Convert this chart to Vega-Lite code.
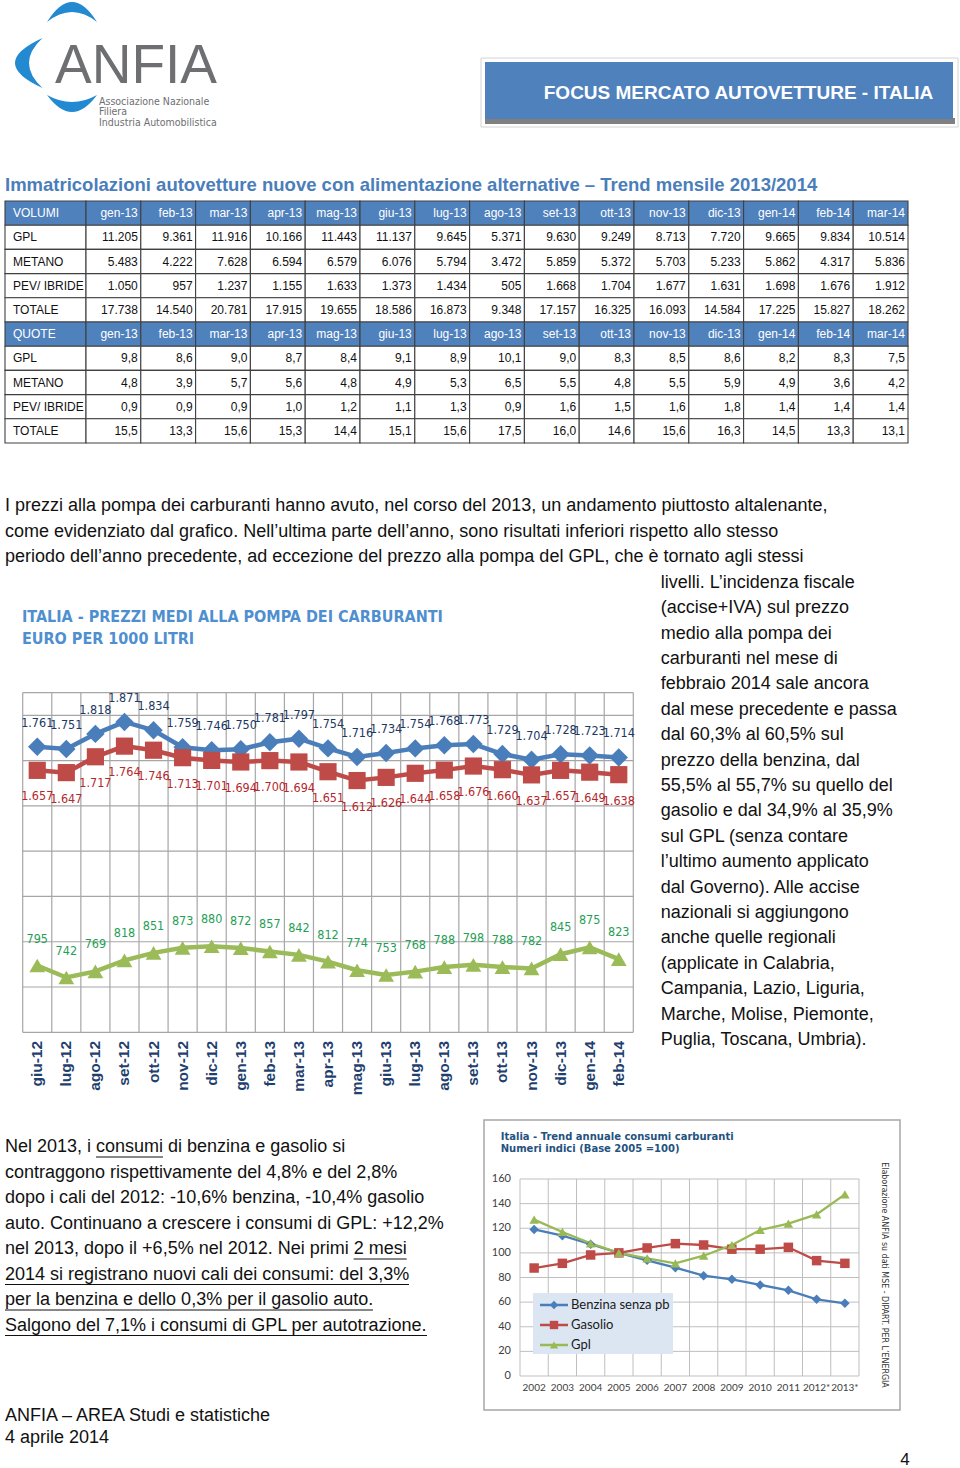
{
"$schema": "https://vega.github.io/schema/vega-lite/v6.json",
"width": 960,
"height": 1468,
"autosize": {"type": "none"},
"padding": 0,
"background": "#ffffff",
"config": {
  "view": {"stroke": null},
  "font": "Liberation Sans",
  "locale": {"number": {"decimal": ",", "thousands": ".", "grouping": [3], "currency": ["€", ""]}}
},
"resolve": {"scale": {"x": "independent", "y": "independent", "color": "independent", "shape": "independent", "fill": "independent", "size": "independent"}},
"datasets": {
  "tbl": [
    {"r":0,"kind":"head","label":"VOLUMI"},
    {"r":1,"kind":"body","label":"GPL","gen-13":"11.205","feb-13":"9.361","mar-13":"11.916","apr-13":"10.166","mag-13":"11.443","giu-13":"11.137","lug-13":"9.645","ago-13":"5.371","set-13":"9.630","ott-13":"9.249","nov-13":"8.713","dic-13":"7.720","gen-14":"9.665","feb-14":"9.834","mar-14":"10.514"},
    {"r":2,"kind":"body","label":"METANO","gen-13":"5.483","feb-13":"4.222","mar-13":"7.628","apr-13":"6.594","mag-13":"6.579","giu-13":"6.076","lug-13":"5.794","ago-13":"3.472","set-13":"5.859","ott-13":"5.372","nov-13":"5.703","dic-13":"5.233","gen-14":"5.862","feb-14":"4.317","mar-14":"5.836"},
    {"r":3,"kind":"body","label":"PEV/ IBRIDE","gen-13":"1.050","feb-13":"957","mar-13":"1.237","apr-13":"1.155","mag-13":"1.633","giu-13":"1.373","lug-13":"1.434","ago-13":"505","set-13":"1.668","ott-13":"1.704","nov-13":"1.677","dic-13":"1.631","gen-14":"1.698","feb-14":"1.676","mar-14":"1.912"},
    {"r":4,"kind":"body","label":"TOTALE","gen-13":"17.738","feb-13":"14.540","mar-13":"20.781","apr-13":"17.915","mag-13":"19.655","giu-13":"18.586","lug-13":"16.873","ago-13":"9.348","set-13":"17.157","ott-13":"16.325","nov-13":"16.093","dic-13":"14.584","gen-14":"17.225","feb-14":"15.827","mar-14":"18.262"},
    {"r":5,"kind":"head","label":"QUOTE"},
    {"r":6,"kind":"body","label":"GPL","gen-13":"9,8","feb-13":"8,6","mar-13":"9,0","apr-13":"8,7","mag-13":"8,4","giu-13":"9,1","lug-13":"8,9","ago-13":"10,1","set-13":"9,0","ott-13":"8,3","nov-13":"8,5","dic-13":"8,6","gen-14":"8,2","feb-14":"8,3","mar-14":"7,5"},
    {"r":7,"kind":"body","label":"METANO","gen-13":"4,8","feb-13":"3,9","mar-13":"5,7","apr-13":"5,6","mag-13":"4,8","giu-13":"4,9","lug-13":"5,3","ago-13":"6,5","set-13":"5,5","ott-13":"4,8","nov-13":"5,5","dic-13":"5,9","gen-14":"4,9","feb-14":"3,6","mar-14":"4,2"},
    {"r":8,"kind":"body","label":"PEV/ IBRIDE","gen-13":"0,9","feb-13":"0,9","mar-13":"0,9","apr-13":"1,0","mag-13":"1,2","giu-13":"1,1","lug-13":"1,3","ago-13":"0,9","set-13":"1,6","ott-13":"1,5","nov-13":"1,6","dic-13":"1,8","gen-14":"1,4","feb-14":"1,4","mar-14":"1,4"},
    {"r":9,"kind":"body","label":"TOTALE","gen-13":"15,5","feb-13":"13,3","mar-13":"15,6","apr-13":"15,3","mag-13":"14,4","giu-13":"15,1","lug-13":"15,6","ago-13":"17,5","set-13":"16,0","ott-13":"14,6","nov-13":"15,6","dic-13":"16,3","gen-14":"14,5","feb-14":"13,3","mar-14":"13,1"}
  ],
  "prezzi": [
    {"mese":"giu-12","fuel":"Benzina","v":1761},{"mese":"lug-12","fuel":"Benzina","v":1751},{"mese":"ago-12","fuel":"Benzina","v":1818},{"mese":"set-12","fuel":"Benzina","v":1871},{"mese":"ott-12","fuel":"Benzina","v":1834},{"mese":"nov-12","fuel":"Benzina","v":1759},{"mese":"dic-12","fuel":"Benzina","v":1746},{"mese":"gen-13","fuel":"Benzina","v":1750},{"mese":"feb-13","fuel":"Benzina","v":1781},{"mese":"mar-13","fuel":"Benzina","v":1797},{"mese":"apr-13","fuel":"Benzina","v":1754},{"mese":"mag-13","fuel":"Benzina","v":1716},{"mese":"giu-13","fuel":"Benzina","v":1734},{"mese":"lug-13","fuel":"Benzina","v":1754},{"mese":"ago-13","fuel":"Benzina","v":1768},{"mese":"set-13","fuel":"Benzina","v":1773},{"mese":"ott-13","fuel":"Benzina","v":1729},{"mese":"nov-13","fuel":"Benzina","v":1704},{"mese":"dic-13","fuel":"Benzina","v":1728},{"mese":"gen-14","fuel":"Benzina","v":1723},{"mese":"feb-14","fuel":"Benzina","v":1714},
    {"mese":"giu-12","fuel":"Gasolio","v":1657},{"mese":"lug-12","fuel":"Gasolio","v":1647},{"mese":"ago-12","fuel":"Gasolio","v":1717},{"mese":"set-12","fuel":"Gasolio","v":1764},{"mese":"ott-12","fuel":"Gasolio","v":1746},{"mese":"nov-12","fuel":"Gasolio","v":1713},{"mese":"dic-12","fuel":"Gasolio","v":1701},{"mese":"gen-13","fuel":"Gasolio","v":1694},{"mese":"feb-13","fuel":"Gasolio","v":1700},{"mese":"mar-13","fuel":"Gasolio","v":1694},{"mese":"apr-13","fuel":"Gasolio","v":1651},{"mese":"mag-13","fuel":"Gasolio","v":1612},{"mese":"giu-13","fuel":"Gasolio","v":1626},{"mese":"lug-13","fuel":"Gasolio","v":1644},{"mese":"ago-13","fuel":"Gasolio","v":1658},{"mese":"set-13","fuel":"Gasolio","v":1676},{"mese":"ott-13","fuel":"Gasolio","v":1660},{"mese":"nov-13","fuel":"Gasolio","v":1637},{"mese":"dic-13","fuel":"Gasolio","v":1657},{"mese":"gen-14","fuel":"Gasolio","v":1649},{"mese":"feb-14","fuel":"Gasolio","v":1638},
    {"mese":"giu-12","fuel":"GPL","v":795},{"mese":"lug-12","fuel":"GPL","v":742},{"mese":"ago-12","fuel":"GPL","v":769},{"mese":"set-12","fuel":"GPL","v":818},{"mese":"ott-12","fuel":"GPL","v":851},{"mese":"nov-12","fuel":"GPL","v":873},{"mese":"dic-12","fuel":"GPL","v":880},{"mese":"gen-13","fuel":"GPL","v":872},{"mese":"feb-13","fuel":"GPL","v":857},{"mese":"mar-13","fuel":"GPL","v":842},{"mese":"apr-13","fuel":"GPL","v":812},{"mese":"mag-13","fuel":"GPL","v":774},{"mese":"giu-13","fuel":"GPL","v":753},{"mese":"lug-13","fuel":"GPL","v":768},{"mese":"ago-13","fuel":"GPL","v":788},{"mese":"set-13","fuel":"GPL","v":798},{"mese":"ott-13","fuel":"GPL","v":788},{"mese":"nov-13","fuel":"GPL","v":782},{"mese":"dic-13","fuel":"GPL","v":845},{"mese":"gen-14","fuel":"GPL","v":875},{"mese":"feb-14","fuel":"GPL","v":823}
  ],
  "cons": [
    {"anno":"2002","serie":"Benzina senza pb","v":119},{"anno":"2003","serie":"Benzina senza pb","v":114},{"anno":"2004","serie":"Benzina senza pb","v":107},{"anno":"2005","serie":"Benzina senza pb","v":100},{"anno":"2006","serie":"Benzina senza pb","v":94},{"anno":"2007","serie":"Benzina senza pb","v":88},{"anno":"2008","serie":"Benzina senza pb","v":81.5},{"anno":"2009","serie":"Benzina senza pb","v":78.5},{"anno":"2010","serie":"Benzina senza pb","v":74},{"anno":"2011","serie":"Benzina senza pb","v":69.6},{"anno":"2012*","serie":"Benzina senza pb","v":62.3},{"anno":"2013*","serie":"Benzina senza pb","v":59},
    {"anno":"2002","serie":"Gasolio","v":87.7},{"anno":"2003","serie":"Gasolio","v":91.5},{"anno":"2004","serie":"Gasolio","v":98.3},{"anno":"2005","serie":"Gasolio","v":100},{"anno":"2006","serie":"Gasolio","v":104},{"anno":"2007","serie":"Gasolio","v":107.5},{"anno":"2008","serie":"Gasolio","v":106.4},{"anno":"2009","serie":"Gasolio","v":103},{"anno":"2010","serie":"Gasolio","v":103},{"anno":"2011","serie":"Gasolio","v":104.5},{"anno":"2012*","serie":"Gasolio","v":93.7},{"anno":"2013*","serie":"Gasolio","v":91.5},
    {"anno":"2002","serie":"Gpl","v":127},{"anno":"2003","serie":"Gpl","v":117},{"anno":"2004","serie":"Gpl","v":107.7},{"anno":"2005","serie":"Gpl","v":100},{"anno":"2006","serie":"Gpl","v":95.5},{"anno":"2007","serie":"Gpl","v":91.5},{"anno":"2008","serie":"Gpl","v":97.7},{"anno":"2009","serie":"Gpl","v":106.4},{"anno":"2010","serie":"Gpl","v":118.6},{"anno":"2011","serie":"Gpl","v":123.7},{"anno":"2012*","serie":"Gpl","v":131.3},{"anno":"2013*","serie":"Gpl","v":147.5}
  ],
  "gridP": [{"g":500},{"g":700},{"g":900},{"g":1100},{"g":1300},{"g":1500},{"g":1700},{"g":1900},{"g":2000}],
  "gridS": [{"g":0},{"g":20},{"g":40},{"g":60},{"g":80},{"g":100},{"g":120},{"g":140},{"g":160}],
  "leg": [{"serie":"Benzina senza pb"},{"serie":"Gasolio"},{"serie":"Gpl"}]
},
"layer": [
  {"data": {"values": [{}]}, "layer": [
    {"mark": {"type": "point", "shape": "M-1,0.4 Q0,-1.2 1,0.4 Q0,-0.4 -1,0.4 Z", "filled": true, "opacity": 1, "color": "#2389D1", "size": 2500, "x": 72, "y": 12}},
    {"mark": {"type": "point", "shape": "M0.5,-1 Q-1.7,0 0.5,1 Q-0.58,0 0.5,-1 Z", "filled": true, "opacity": 1, "color": "#2389D1", "size": 2500, "x": 30, "y": 63}},
    {"mark": {"type": "point", "shape": "M-1,-0.2 Q0,1.16 1,-0.2 Q0,0.36 -1,-0.2 Z", "filled": true, "opacity": 1, "color": "#2389D1", "size": 2500, "x": 72, "y": 100}},
    {"mark": {"type": "text", "text": "ANFIA", "x": 55, "y": 83, "align": "left", "baseline": "alphabetic", "font": "Liberation Sans", "fontSize": 55, "color": "#6E6F72"}},
    {"mark": {"type": "text", "text": "Associazione Nazionale", "x": 99, "y": 101.5, "align": "left", "baseline": "middle", "font": "DejaVu Sans Condensed, Roboto, sans-serif", "fontSize": 10.5, "color": "#6E6F72"}},
    {"mark": {"type": "text", "text": "Filiera", "x": 99, "y": 112, "align": "left", "baseline": "middle", "font": "DejaVu Sans Condensed, Roboto, sans-serif", "fontSize": 10.5, "color": "#6E6F72"}},
    {"mark": {"type": "text", "text": "Industria Automobilistica", "x": 99, "y": 122.5, "align": "left", "baseline": "middle", "font": "DejaVu Sans Condensed, Roboto, sans-serif", "fontSize": 10.5, "color": "#6E6F72"}}
  ]},
  {"data": {"values": [{}]}, "layer": [
    {"mark": {"type": "rect", "x": 481, "x2": 958, "y": 58, "y2": 127, "fill": "#ffffff", "stroke": "#d4d4d4", "strokeWidth": 1}},
    {"mark": {"type": "rect", "x": 485, "x2": 955, "y": 118, "y2": 124, "fill": "#808080"}},
    {"mark": {"type": "rect", "x": 485, "x2": 953, "y": 62, "y2": 119, "fill": "#4F81BD"}},
    {"mark": {"type": "text", "text": "FOCUS MERCATO AUTOVETTURE - ITALIA", "x": 738.5, "y": 93, "align": "center", "baseline": "middle", "color": "#ffffff", "font": "Liberation Sans", "fontSize": 19, "fontWeight": "bold"}},
    {"mark": {"type": "text", "text": "Immatricolazioni autovetture nuove con alimentazione alternative – Trend mensile 2013/2014", "x": 5, "y": 185, "align": "left", "baseline": "middle", "color": "#4A7EBB", "font": "Liberation Sans", "fontSize": 18.5, "fontWeight": "bold"}},
    {"mark": {"type": "rule", "color": "#111111", "strokeWidth": 1}, "encoding": {"x": {"value": 96}, "x2": {"value": 163}, "y": {"value": 1157}}},
    {"mark": {"type": "rule", "color": "#111111", "strokeWidth": 1}, "encoding": {"x": {"value": 353.7}, "x2": {"value": 406.7}, "y": {"value": 1259}}},
    {"mark": {"type": "rule", "color": "#111111", "strokeWidth": 1}, "encoding": {"x": {"value": 5}, "x2": {"value": 409}, "y": {"value": 1284.5}}},
    {"mark": {"type": "rule", "color": "#111111", "strokeWidth": 1}, "encoding": {"x": {"value": 5}, "x2": {"value": 373}, "y": {"value": 1310}}},
    {"mark": {"type": "rule", "color": "#111111", "strokeWidth": 1}, "encoding": {"x": {"value": 5}, "x2": {"value": 427}, "y": {"value": 1335.5}}}
  ]},
  {"layer": [
    {"data": {"name": "tbl"},
     "mark": {"type": "rect", "x": 5, "x2": 86, "stroke": "#404040", "strokeWidth": 1.1},
     "encoding": {
       "y": {"field": "r", "type": "ordinal", "scale": {"type": "band", "range": [201, 443], "paddingInner": 0, "paddingOuter": 0}, "axis": null},
       "fill": {"field": "kind", "type": "nominal", "scale": {"domain": ["head", "body"], "range": ["#4F81BD", "#ffffff"]}, "legend": null}}},
    {"data": {"name": "tbl"},
     "mark": {"type": "text", "x": 13, "align": "left", "baseline": "middle", "font": "Liberation Sans", "fontSize": 12},
     "encoding": {
       "y": {"field": "r", "type": "ordinal", "scale": {"type": "band", "range": [201, 443], "paddingInner": 0, "paddingOuter": 0}, "axis": null},
       "text": {"field": "label"},
       "color": {"condition": {"test": "datum.kind === 'head'", "value": "#ffffff"}, "value": "#111111"}}},
    {"data": {"name": "tbl"},
     "transform": [{"fold": ["gen-13","feb-13","mar-13","apr-13","mag-13","giu-13","lug-13","ago-13","set-13","ott-13","nov-13","dic-13","gen-14","feb-14","mar-14"], "as": ["mese", "val"]}],
     "mark": {"type": "rect", "stroke": "#404040", "strokeWidth": 1.1},
     "encoding": {
       "x": {"field": "mese", "type": "ordinal", "sort": ["gen-13","feb-13","mar-13","apr-13","mag-13","giu-13","lug-13","ago-13","set-13","ott-13","nov-13","dic-13","gen-14","feb-14","mar-14"], "scale": {"type": "band", "range": [86, 908], "paddingInner": 0, "paddingOuter": 0}, "axis": null},
       "y": {"field": "r", "type": "ordinal", "scale": {"type": "band", "range": [201, 443], "paddingInner": 0, "paddingOuter": 0}, "axis": null},
       "fill": {"field": "kind", "type": "nominal", "scale": {"domain": ["head", "body"], "range": ["#4F81BD", "#ffffff"]}, "legend": null}}},
    {"data": {"name": "tbl"},
     "transform": [{"fold": ["gen-13","feb-13","mar-13","apr-13","mag-13","giu-13","lug-13","ago-13","set-13","ott-13","nov-13","dic-13","gen-14","feb-14","mar-14"], "as": ["mese", "val"]}],
     "mark": {"type": "text", "align": "right", "baseline": "middle", "dx": -3, "font": "Liberation Sans", "fontSize": 12},
     "encoding": {
       "x": {"field": "mese", "type": "ordinal", "sort": ["gen-13","feb-13","mar-13","apr-13","mag-13","giu-13","lug-13","ago-13","set-13","ott-13","nov-13","dic-13","gen-14","feb-14","mar-14"], "bandPosition": 1, "scale": {"type": "band", "range": [86, 908], "paddingInner": 0, "paddingOuter": 0}, "axis": null},
       "y": {"field": "r", "type": "ordinal", "scale": {"type": "band", "range": [201, 443], "paddingInner": 0, "paddingOuter": 0}, "axis": null},
       "text": {"condition": {"test": "datum.kind === 'head'", "field": "mese"}, "field": "val"},
       "color": {"condition": {"test": "datum.kind === 'head'", "value": "#ffffff"}, "value": "#111111"}}}
  ]},
  {"data": {"values": [
     {"l": 1, "t": "I prezzi alla pompa dei carburanti hanno avuto, nel corso del 2013, un andamento piuttosto altalenante,"},
     {"l": 2, "t": "come evidenziato dal grafico. Nell’ultima parte dell’anno, sono risultati inferiori rispetto allo stesso"},
     {"l": 3, "t": "periodo dell’anno precedente, ad eccezione del prezzo alla pompa del GPL, che è tornato agli stessi"}
   ]},
   "mark": {"type": "text", "x": 5, "align": "left", "baseline": "middle", "font": "Liberation Sans", "fontSize": 18, "color": "#111111"},
   "encoding": {"y": {"field": "l", "type": "ordinal", "scale": {"type": "point", "range": [506, 557], "padding": 0}, "axis": null}, "text": {"field": "t"}}},
  {"data": {"values": [
     {"l": 1, "t": "livelli. L’incidenza fiscale"},
     {"l": 2, "t": "(accise+IVA) sul prezzo"},
     {"l": 3, "t": "medio alla pompa dei"},
     {"l": 4, "t": "carburanti nel mese di"},
     {"l": 5, "t": "febbraio 2014 sale ancora"},
     {"l": 6, "t": "dal mese precedente e passa"},
     {"l": 7, "t": "dal 60,3% al 60,5% sul"},
     {"l": 8, "t": "prezzo della benzina, dal"},
     {"l": 9, "t": "55,5% al 55,7% su quello del"},
     {"l": 10, "t": "gasolio e dal 34,9% al 35,9%"},
     {"l": 11, "t": "sul GPL (senza contare"},
     {"l": 12, "t": "l’ultimo aumento applicato"},
     {"l": 13, "t": "dal Governo). Alle accise"},
     {"l": 14, "t": "nazionali si aggiungono"},
     {"l": 15, "t": "anche quelle regionali"},
     {"l": 16, "t": "(applicate in Calabria,"},
     {"l": 17, "t": "Campania, Lazio, Liguria,"},
     {"l": 18, "t": "Marche, Molise, Piemonte,"},
     {"l": 19, "t": "Puglia, Toscana, Umbria)."}
   ]},
   "mark": {"type": "text", "x": 660.7, "align": "left", "baseline": "middle", "font": "Liberation Sans", "fontSize": 18, "color": "#111111"},
   "encoding": {"y": {"field": "l", "type": "ordinal", "scale": {"type": "point", "range": [582.7, 1040], "padding": 0}, "axis": null}, "text": {"field": "t"}}},
  {"layer": [
    {"data": {"name": "gridP"},
     "mark": {"type": "rule", "x": 22.7, "x2": 633.3, "color": "#a6a6a6", "strokeWidth": 1.2},
     "encoding": {"y": {"field": "g", "type": "quantitative", "scale": {"domain": [500, 2000], "range": [1032.3, 692.7], "nice": false, "zero": false}, "axis": null}}},
    {"data": {"name": "prezzi"}, "transform": [{"filter": "datum.fuel === 'Benzina'"}],
     "mark": {"type": "rule", "color": "#a6a6a6", "strokeWidth": 1.2},
     "encoding": {
       "x": {"field": "mese", "type": "ordinal", "bandPosition": 0, "sort": ["giu-12","lug-12","ago-12","set-12","ott-12","nov-12","dic-12","gen-13","feb-13","mar-13","apr-13","mag-13","giu-13","lug-13","ago-13","set-13","ott-13","nov-13","dic-13","gen-14","feb-14"], "scale": {"type": "band", "range": [22.7, 633.3], "paddingInner": 0, "paddingOuter": 0}, "axis": null},
       "y": {"datum": 500, "type": "quantitative", "axis": null},
       "y2": {"datum": 2000}}},
    {"data": {"name": "prezzi"}, "transform": [{"filter": "datum.fuel === 'Benzina' && datum.mese === 'feb-14'"}],
     "mark": {"type": "rule", "color": "#a6a6a6", "strokeWidth": 1.2},
     "encoding": {
       "x": {"field": "mese", "type": "ordinal", "bandPosition": 1, "sort": ["giu-12","lug-12","ago-12","set-12","ott-12","nov-12","dic-12","gen-13","feb-13","mar-13","apr-13","mag-13","giu-13","lug-13","ago-13","set-13","ott-13","nov-13","dic-13","gen-14","feb-14"], "scale": {"type": "band", "range": [22.7, 633.3], "paddingInner": 0, "paddingOuter": 0}, "axis": null},
       "y": {"datum": 500, "type": "quantitative", "axis": null},
       "y2": {"datum": 2000}}},
    {"data": {"name": "prezzi"},
     "mark": {"type": "line", "strokeWidth": 4.5},
     "encoding": {
       "x": {"field": "mese", "type": "ordinal", "sort": ["giu-12","lug-12","ago-12","set-12","ott-12","nov-12","dic-12","gen-13","feb-13","mar-13","apr-13","mag-13","giu-13","lug-13","ago-13","set-13","ott-13","nov-13","dic-13","gen-14","feb-14"], "scale": {"type": "band", "range": [22.7, 633.3], "paddingInner": 0, "paddingOuter": 0}, "axis": null},
       "y": {"field": "v", "type": "quantitative", "scale": {"domain": [500, 2000], "range": [1032.3, 692.7], "nice": false, "zero": false}, "axis": null},
       "color": {"field": "fuel", "type": "nominal", "scale": {"domain": ["Benzina", "Gasolio", "GPL"], "range": ["#4A7EBB", "#BE4B48", "#9BBB59"]}, "legend": null}}},
    {"data": {"name": "prezzi"},
     "mark": {"type": "point", "filled": true, "opacity": 1},
     "encoding": {
       "x": {"field": "mese", "type": "ordinal", "sort": ["giu-12","lug-12","ago-12","set-12","ott-12","nov-12","dic-12","gen-13","feb-13","mar-13","apr-13","mag-13","giu-13","lug-13","ago-13","set-13","ott-13","nov-13","dic-13","gen-14","feb-14"], "scale": {"type": "band", "range": [22.7, 633.3], "paddingInner": 0, "paddingOuter": 0}, "axis": null},
       "y": {"field": "v", "type": "quantitative", "axis": null},
       "color": {"field": "fuel", "type": "nominal", "scale": {"domain": ["Benzina", "Gasolio", "GPL"], "range": ["#4A7EBB", "#BE4B48", "#9BBB59"]}, "legend": null},
       "shape": {"field": "fuel", "type": "nominal", "scale": {"domain": ["Benzina", "Gasolio", "GPL"], "range": ["diamond", "square", "triangle-up"]}, "legend": null},
       "size": {"field": "fuel", "type": "nominal", "scale": {"domain": ["Benzina", "Gasolio", "GPL"], "range": [340, 250, 270]}, "legend": null}}},
    {"data": {"name": "prezzi"}, "transform": [{"filter": "datum.fuel === 'Benzina'"}],
     "mark": {"type": "text", "dy": -24, "baseline": "middle", "font": "DejaVu Sans Condensed, Roboto, sans-serif", "fontSize": 12.5, "color": "#203864"},
     "encoding": {
       "x": {"field": "mese", "type": "ordinal", "sort": ["giu-12","lug-12","ago-12","set-12","ott-12","nov-12","dic-12","gen-13","feb-13","mar-13","apr-13","mag-13","giu-13","lug-13","ago-13","set-13","ott-13","nov-13","dic-13","gen-14","feb-14"], "axis": null},
       "y": {"field": "v", "type": "quantitative", "axis": null},
       "text": {"field": "v", "type": "quantitative", "format": ",d"}}},
    {"data": {"name": "prezzi"}, "transform": [{"filter": "datum.fuel === 'Gasolio'"}],
     "mark": {"type": "text", "dy": 26, "baseline": "middle", "font": "DejaVu Sans Condensed, Roboto, sans-serif", "fontSize": 12.5, "color": "#B5272D"},
     "encoding": {
       "x": {"field": "mese", "type": "ordinal", "sort": ["giu-12","lug-12","ago-12","set-12","ott-12","nov-12","dic-12","gen-13","feb-13","mar-13","apr-13","mag-13","giu-13","lug-13","ago-13","set-13","ott-13","nov-13","dic-13","gen-14","feb-14"], "axis": null},
       "y": {"field": "v", "type": "quantitative", "axis": null},
       "text": {"field": "v", "type": "quantitative", "format": ",d"}}},
    {"data": {"name": "prezzi"}, "transform": [{"filter": "datum.fuel === 'GPL'"}],
     "mark": {"type": "text", "dy": -27, "baseline": "middle", "font": "DejaVu Sans Condensed, Roboto, sans-serif", "fontSize": 12.5, "color": "#1FA055"},
     "encoding": {
       "x": {"field": "mese", "type": "ordinal", "sort": ["giu-12","lug-12","ago-12","set-12","ott-12","nov-12","dic-12","gen-13","feb-13","mar-13","apr-13","mag-13","giu-13","lug-13","ago-13","set-13","ott-13","nov-13","dic-13","gen-14","feb-14"], "axis": null},
       "y": {"field": "v", "type": "quantitative", "axis": null},
       "text": {"field": "v", "type": "quantitative", "format": ",d"}}},
    {"data": {"name": "prezzi"}, "transform": [{"filter": "datum.fuel === 'Benzina'"}],
     "mark": {"type": "text", "angle": 270, "align": "right", "baseline": "middle", "font": "Liberation Sans", "fontSize": 15.5, "fontWeight": "bold", "color": "#1F3F6F"},
     "encoding": {
       "x": {"field": "mese", "type": "ordinal", "sort": ["giu-12","lug-12","ago-12","set-12","ott-12","nov-12","dic-12","gen-13","feb-13","mar-13","apr-13","mag-13","giu-13","lug-13","ago-13","set-13","ott-13","nov-13","dic-13","gen-14","feb-14"], "axis": null},
       "y": {"datum": 462, "type": "quantitative", "axis": null},
       "text": {"field": "mese"}}}
  ]},
  {"data": {"values": [{}]}, "layer": [
    {"mark": {"type": "text", "text": "ITALIA - PREZZI MEDI ALLA POMPA DEI CARBURANTI", "x": 22, "y": 617, "align": "left", "baseline": "middle", "font": "DejaVu Sans Condensed, Roboto, sans-serif", "fontSize": 16, "fontWeight": "bold", "color": "#4F8FCF"}},
    {"mark": {"type": "text", "text": "EURO PER 1000 LITRI", "x": 22, "y": 639, "align": "left", "baseline": "middle", "font": "DejaVu Sans Condensed, Roboto, sans-serif", "fontSize": 16, "fontWeight": "bold", "color": "#4F8FCF"}},
    {"mark": {"type": "rect", "x": 484, "x2": 900, "y": 1120, "y2": 1410, "fill": "#ffffff", "stroke": "#a6a6a6", "strokeWidth": 1.5}},
    {"mark": {"type": "text", "text": "Italia - Trend annuale consumi carburanti", "x": 500.7, "y": 1137, "align": "left", "baseline": "middle", "font": "DejaVu Sans", "fontSize": 10, "fontWeight": "bold", "color": "#24527F"}},
    {"mark": {"type": "text", "text": "Numeri indici (Base 2005 =100)", "x": 500.7, "y": 1149, "align": "left", "baseline": "middle", "font": "DejaVu Sans", "fontSize": 10, "fontWeight": "bold", "color": "#24527F"}},
    {"mark": {"type": "text", "text": "Elaborazione ANFIA su dati MSE - DIPART. PER L’ENERGIA", "x": 885, "y": 1275, "angle": 90, "align": "center", "baseline": "middle", "font": "DejaVu Sans Condensed, Roboto, sans-serif", "fontSize": 8.8, "color": "#333333"}},
    {"mark": {"type": "text", "text": "4", "x": 905, "y": 1460, "align": "center", "baseline": "middle", "font": "Liberation Sans", "fontSize": 17, "color": "#111111"}}
  ]},
  {"layer": [
    {"data": {"name": "gridS"},
     "mark": {"type": "rule", "x": 520, "x2": 859, "color": "#bfbfbf", "strokeWidth": 1},
     "encoding": {"y": {"field": "g", "type": "quantitative", "scale": {"domain": [0, 160], "range": [1376, 1179], "nice": false}, "axis": null}}},
    {"data": {"name": "gridS"},
     "mark": {"type": "text", "x": 511, "align": "right", "baseline": "middle", "font": "Lato", "fontSize": 11, "color": "#404040"},
     "encoding": {"y": {"field": "g", "type": "quantitative", "axis": null}, "text": {"field": "g", "type": "quantitative"}}},
    {"data": {"name": "cons"}, "transform": [{"filter": "datum.serie === 'Gpl'"}],
     "mark": {"type": "rule", "color": "#bfbfbf", "strokeWidth": 1},
     "encoding": {
       "x": {"field": "anno", "type": "ordinal", "bandPosition": 0, "sort": ["2002","2003","2004","2005","2006","2007","2008","2009","2010","2011","2012*","2013*"], "scale": {"type": "band", "range": [520, 859], "paddingInner": 0, "paddingOuter": 0}, "axis": null},
       "y": {"datum": 0, "type": "quantitative", "axis": null},
       "y2": {"datum": 160}}},
    {"data": {"name": "cons"}, "transform": [{"filter": "datum.serie === 'Gpl' && datum.anno === '2013*'"}],
     "mark": {"type": "rule", "color": "#bfbfbf", "strokeWidth": 1},
     "encoding": {
       "x": {"field": "anno", "type": "ordinal", "bandPosition": 1, "sort": ["2002","2003","2004","2005","2006","2007","2008","2009","2010","2011","2012*","2013*"], "axis": null},
       "y": {"datum": 0, "type": "quantitative", "axis": null},
       "y2": {"datum": 160}}},
    {"data": {"name": "cons"}, "transform": [{"filter": "datum.serie === 'Gpl'"}],
     "mark": {"type": "text", "baseline": "middle", "font": "Lato", "fontSize": 10, "color": "#404040"},
     "encoding": {
       "x": {"field": "anno", "type": "ordinal", "sort": ["2002","2003","2004","2005","2006","2007","2008","2009","2010","2011","2012*","2013*"], "axis": null},
       "y": {"datum": -9.5, "type": "quantitative", "axis": null},
       "text": {"field": "anno"}}},
    {"data": {"name": "cons"},
     "mark": {"type": "line", "strokeWidth": 2.3},
     "encoding": {
       "x": {"field": "anno", "type": "ordinal", "sort": ["2002","2003","2004","2005","2006","2007","2008","2009","2010","2011","2012*","2013*"], "axis": null},
       "y": {"field": "v", "type": "quantitative", "axis": null},
       "color": {"field": "serie", "type": "nominal", "scale": {"domain": ["Benzina senza pb", "Gasolio", "Gpl"], "range": ["#4A7EBB", "#BE4B48", "#98B954"]}, "legend": null}}},
    {"data": {"name": "cons"},
     "mark": {"type": "point", "filled": true, "opacity": 1, "size": 90},
     "encoding": {
       "x": {"field": "anno", "type": "ordinal", "sort": ["2002","2003","2004","2005","2006","2007","2008","2009","2010","2011","2012*","2013*"], "axis": null},
       "y": {"field": "v", "type": "quantitative", "axis": null},
       "color": {"field": "serie", "type": "nominal", "scale": {"domain": ["Benzina senza pb", "Gasolio", "Gpl"], "range": ["#4A7EBB", "#BE4B48", "#98B954"]}, "legend": null},
       "shape": {"field": "serie", "type": "nominal", "scale": {"domain": ["Benzina senza pb", "Gasolio", "Gpl"], "range": ["diamond", "square", "triangle-up"]}, "legend": null}}}
  ]},
  {"layer": [
    {"data": {"values": [{}]}, "mark": {"type": "rect", "x": 533, "x2": 673, "y": 1293, "y2": 1354, "fill": "#DCE6F2"}},
    {"data": {"name": "leg"},
     "mark": {"type": "rule", "x": 540, "x2": 568, "strokeWidth": 2.5},
     "encoding": {
       "y": {"field": "serie", "type": "nominal", "sort": ["Benzina senza pb", "Gasolio", "Gpl"], "scale": {"type": "point", "range": [1305, 1345], "padding": 0}, "axis": null},
       "color": {"field": "serie", "type": "nominal", "scale": {"domain": ["Benzina senza pb", "Gasolio", "Gpl"], "range": ["#4A7EBB", "#BE4B48", "#98B954"]}, "legend": null}}},
    {"data": {"name": "leg"},
     "mark": {"type": "point", "x": 554, "filled": true, "opacity": 1, "size": 70},
     "encoding": {
       "y": {"field": "serie", "type": "nominal", "sort": ["Benzina senza pb", "Gasolio", "Gpl"], "axis": null},
       "color": {"field": "serie", "type": "nominal", "scale": {"domain": ["Benzina senza pb", "Gasolio", "Gpl"], "range": ["#4A7EBB", "#BE4B48", "#98B954"]}, "legend": null},
       "shape": {"field": "serie", "type": "nominal", "scale": {"domain": ["Benzina senza pb", "Gasolio", "Gpl"], "range": ["diamond", "square", "triangle-up"]}, "legend": null}}},
    {"data": {"name": "leg"},
     "mark": {"type": "text", "x": 571, "align": "left", "baseline": "middle", "font": "Lato", "fontSize": 13, "color": "#1a1a1a"},
     "encoding": {
       "y": {"field": "serie", "type": "nominal", "sort": ["Benzina senza pb", "Gasolio", "Gpl"], "axis": null},
       "text": {"field": "serie"}}}
  ]},
  {"data": {"values": [
     {"l": 1, "t": "Nel 2013, i consumi di benzina e gasolio si"},
     {"l": 2, "t": "contraggono rispettivamente del 4,8% e del 2,8%"},
     {"l": 3, "t": "dopo i cali del 2012: -10,6% benzina, -10,4% gasolio"},
     {"l": 4, "t": "auto. Continuano a crescere i consumi di GPL: +12,2%"},
     {"l": 5, "t": "nel 2013, dopo il +6,5% nel 2012. Nei primi 2 mesi"},
     {"l": 6, "t": "2014 si registrano nuovi cali dei consumi: del 3,3%"},
     {"l": 7, "t": "per la benzina e dello 0,3% per il gasolio auto."},
     {"l": 8, "t": "Salgono del 7,1% i consumi di GPL per autotrazione."}
   ]},
   "mark": {"type": "text", "x": 5, "align": "left", "baseline": "middle", "font": "Liberation Sans", "fontSize": 18, "color": "#111111"},
   "encoding": {"y": {"field": "l", "type": "ordinal", "scale": {"type": "point", "range": [1147.3, 1326], "padding": 0}, "axis": null}, "text": {"field": "t"}}},
  {"data": {"values": [
     {"l": 1, "t": "ANFIA – AREA Studi e statistiche"},
     {"l": 2, "t": "4 aprile 2014"}
   ]},
   "mark": {"type": "text", "x": 5, "align": "left", "baseline": "middle", "font": "Liberation Sans", "fontSize": 18, "color": "#111111"},
   "encoding": {"y": {"field": "l", "type": "ordinal", "scale": {"type": "point", "range": [1416, 1438.3], "padding": 0}, "axis": null}, "text": {"field": "t"}}}
]
}
